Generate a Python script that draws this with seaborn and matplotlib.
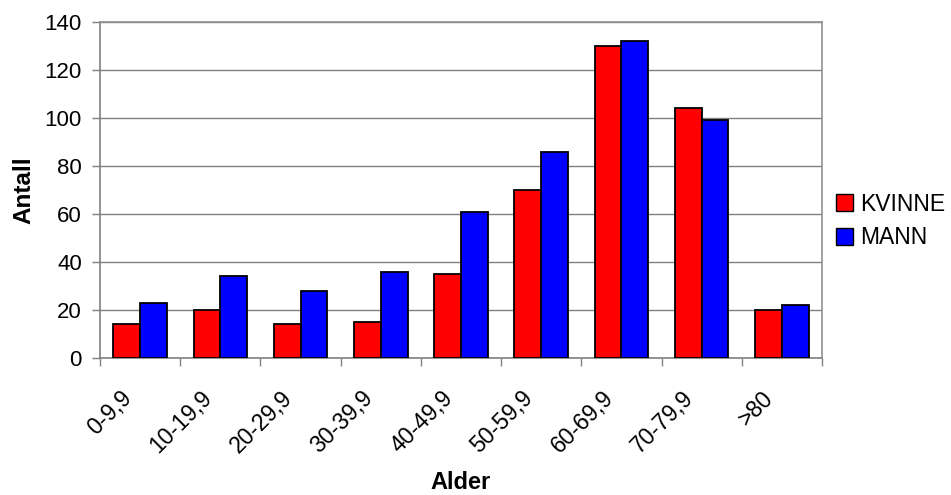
import matplotlib
matplotlib.use("Agg")
import matplotlib.pyplot as plt
import matplotlib.transforms as mtransforms
import seaborn as sns
import pandas as pd
from matplotlib.patches import Patch

# Age groups and counts per sex
age_groups = ["0-9,9", "10-19,9", "20-29,9", "30-39,9", "40-49,9",
              "50-59,9", "60-69,9", "70-79,9", ">80"]
kvinne = [14, 20, 14, 15, 35, 70, 130, 104, 20]
mann = [23, 34, 28, 36, 61, 86, 132, 99, 22]
series_names = ["KVINNE", "MANN"]
series_colors = ["#FF0000", "#0000FF"]
y_ticks = [0, 20, 40, 60, 80, 100, 120, 140]

df = pd.DataFrame({
    "Alder": age_groups * 2,
    "Antall": kvinne + mann,
    "Kjønn": [series_names[0]] * len(age_groups) + [series_names[1]] * len(age_groups),
})

sns.set_theme(style="white")
plt.rcParams["font.family"] = ["Liberation Sans", "DejaVu Sans"]
plt.rcParams["text.color"] = "black"
plt.rcParams["axes.labelcolor"] = "black"
plt.rcParams["xtick.labelcolor"] = "black"
plt.rcParams["ytick.labelcolor"] = "black"

fig = plt.figure(figsize=(9.51, 4.95), dpi=100)
ax = fig.add_axes([100 / 951, 1 - 358 / 495, 722 / 951, 336 / 495])

sns.barplot(data=df, x="Alder", y="Antall", hue="Kjønn", order=age_groups,
            hue_order=series_names, palette=series_colors, width=2 / 3,
            edgecolor="black", linewidth=1.3, saturation=1, ax=ax, legend=False,
            zorder=3)

ax.set_xlim(-0.5, len(age_groups) - 0.5)
ax.set_ylim(0, 140)
ax.set_yticks(y_ticks)
ax.yaxis.grid(True, color="#808080", linewidth=1.0, zorder=0)
ax.set_axisbelow(True)

for side in ["left", "bottom"]:
    ax.spines[side].set_color("#808080")
    ax.spines[side].set_linewidth(1.2)
for side in ["top", "right"]:
    ax.spines[side].set_visible(True)
    ax.spines[side].set_color("#909090")
    ax.spines[side].set_linewidth(1.2)

# Category labels at group centres, tick marks on group boundaries
ax.set_xticks(range(len(age_groups)))
ax.set_xticklabels(age_groups, rotation=45, ha="right", rotation_mode="anchor",
                   fontsize=16.5)
ax.set_xticks([i - 0.5 for i in range(len(age_groups) + 1)], minor=True)
ax.tick_params(axis="x", which="major", length=0, pad=14)
ax.tick_params(axis="x", which="minor", length=6, width=1.0, color="#808080",
               direction="out", bottom=True)
ax.tick_params(axis="y", which="major", length=6, width=1.0, color="#808080",
               direction="out", left=True, labelsize=16, pad=7)

shift = mtransforms.ScaledTranslation(-20 / 100, -9 / 100, fig.dpi_scale_trans)
for lbl in ax.get_xticklabels():
    lbl.set_transform(lbl.get_transform() + shift)

ax.set_xlabel("Alder", fontsize=17, fontweight="bold")
ax.xaxis.set_label_coords(0.5, -0.337)
ax.set_ylabel("Antall", fontsize=17.5, fontweight="bold", labelpad=7)

handles = [Patch(facecolor=c, edgecolor="black", linewidth=1.0, label=n)
           for n, c in zip(series_names, series_colors)]
fig.legend(handles=handles, loc="center left", bbox_to_anchor=(836 / 951, 1 - 221 / 495),
           frameon=False, fontsize=16.5, handlelength=0.75, handleheight=0.75,
           handletextpad=0.3, labelspacing=0.45, borderpad=0, borderaxespad=0)

fig.savefig("out.png", dpi=100, facecolor="white")
